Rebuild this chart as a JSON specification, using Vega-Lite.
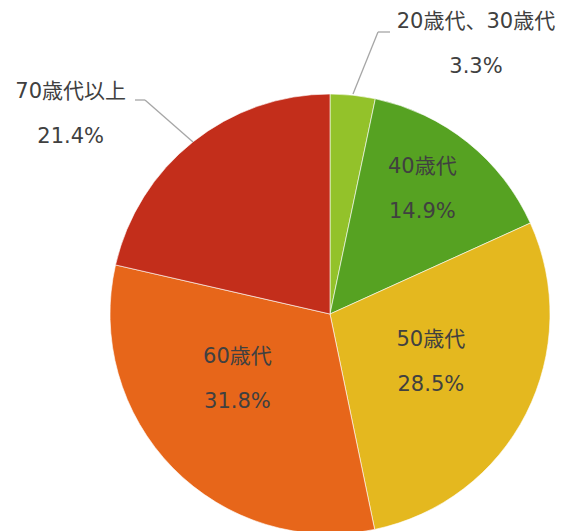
{
  "$schema": "https://vega.github.io/schema/vega-lite/v6.json",
  "width": 440,
  "height": 434,
  "autosize": {"type": "none"},
  "padding": {"left": 110, "top": 97, "right": 17, "bottom": 0},
  "background": "white",
  "view": {"stroke": null},
  "data": {
    "values": [
      {"age": "20歳代、30歳代", "pct": 3.3, "label": "20歳代、30歳代\n3.3%"},
      {"age": "40歳代", "pct": 14.9, "label": "40歳代\n14.9%"},
      {"age": "50歳代", "pct": 28.5, "label": "50歳代\n28.5%"},
      {"age": "60歳代", "pct": 31.8, "label": "60歳代\n31.8%"},
      {"age": "70歳代以上", "pct": 21.4, "label": "70歳代以上\n21.4%"}
    ]
  },
  "layer": [
    {
      "mark": {"type": "arc", "outerRadius": 220, "stroke": "#ffffff", "strokeWidth": 0.6},
      "encoding": {
        "theta": {"field": "pct", "type": "quantitative", "stack": true},
        "color": {
          "field": "age",
          "type": "nominal",
          "scale": {
            "domain": ["20歳代、30歳代", "40歳代", "50歳代", "60歳代", "70歳代以上"],
            "range": ["#93C22A", "#56A222", "#E4B81F", "#E7661A", "#C32E1B"]
          },
          "legend": null
        }
      }
    },
    {
      "mark": {"type": "text", "radius": 270, "dx": 118, "dy": -23.5, "fontSize": 21, "lineHeight": 45, "lineBreak": "\n", "font": "DejaVu Sans, Noto Sans CJK JP", "color": "#404040", "align": "center", "baseline": "middle"},
      "encoding": {
        "theta": {"field": "pct", "type": "quantitative", "stack": true},
        "detail": {"field": "age"},
        "text": {"condition": {"test": "datum.age === '20歳代、30歳代'", "field": "label"}, "value": ""}
      }
    },
    {
      "mark": {"type": "text", "radius": 154, "dx": -4, "dy": -26.5, "fontSize": 21, "lineHeight": 45, "lineBreak": "\n", "font": "DejaVu Sans, Noto Sans CJK JP", "color": "#404040", "align": "center", "baseline": "middle"},
      "encoding": {
        "theta": {"field": "pct", "type": "quantitative", "stack": true},
        "detail": {"field": "age"},
        "text": {"condition": {"test": "datum.age === '40歳代'", "field": "label"}, "value": ""}
      }
    },
    {
      "mark": {"type": "text", "radius": 112, "dx": 1, "dy": -24.5, "fontSize": 21, "lineHeight": 45, "lineBreak": "\n", "font": "DejaVu Sans, Noto Sans CJK JP", "color": "#404040", "align": "center", "baseline": "middle"},
      "encoding": {
        "theta": {"field": "pct", "type": "quantitative", "stack": true},
        "detail": {"field": "age"},
        "text": {"condition": {"test": "datum.age === '50歳代'", "field": "label"}, "value": ""}
      }
    },
    {
      "mark": {"type": "text", "radius": 110, "dx": -14, "dy": -33.5, "fontSize": 21, "lineHeight": 45, "lineBreak": "\n", "font": "DejaVu Sans, Noto Sans CJK JP", "color": "#404040", "align": "center", "baseline": "middle"},
      "encoding": {
        "theta": {"field": "pct", "type": "quantitative", "stack": true},
        "detail": {"field": "age"},
        "text": {"condition": {"test": "datum.age === '60歳代'", "field": "label"}, "value": ""}
      }
    },
    {
      "mark": {"type": "text", "radius": 270, "dx": -91, "dy": -10.5, "fontSize": 21, "lineHeight": 45, "lineBreak": "\n", "font": "DejaVu Sans, Noto Sans CJK JP", "color": "#404040", "align": "center", "baseline": "middle"},
      "encoding": {
        "theta": {"field": "pct", "type": "quantitative", "stack": true},
        "detail": {"field": "age"},
        "text": {"condition": {"test": "datum.age === '70歳代以上'", "field": "label"}, "value": ""}
      }
    },
    {
      "data": {"values": [{"leader": "20歳代、30歳代"}]},
      "mark": {"type": "rule", "color": "#a6a6a6", "strokeWidth": 1.3},
      "encoding": {"x": {"value": 243}, "y": {"value": -3}, "x2": {"value": 268}, "y2": {"value": -65}}
    },
    {
      "data": {"values": [{"leader": "20歳代、30歳代"}]},
      "mark": {"type": "rule", "color": "#a6a6a6", "strokeWidth": 1.3},
      "encoding": {"x": {"value": 268}, "y": {"value": -65}, "x2": {"value": 280}, "y2": {"value": -65}}
    },
    {
      "data": {"values": [{"leader": "70歳代以上"}]},
      "mark": {"type": "rule", "color": "#a6a6a6", "strokeWidth": 1.3},
      "encoding": {"x": {"value": 25}, "y": {"value": 3}, "x2": {"value": 35}, "y2": {"value": 3}}
    },
    {
      "data": {"values": [{"leader": "70歳代以上"}]},
      "mark": {"type": "rule", "color": "#a6a6a6", "strokeWidth": 1.3},
      "encoding": {"x": {"value": 35}, "y": {"value": 3}, "x2": {"value": 83}, "y2": {"value": 45}}
    }
  ]
}
